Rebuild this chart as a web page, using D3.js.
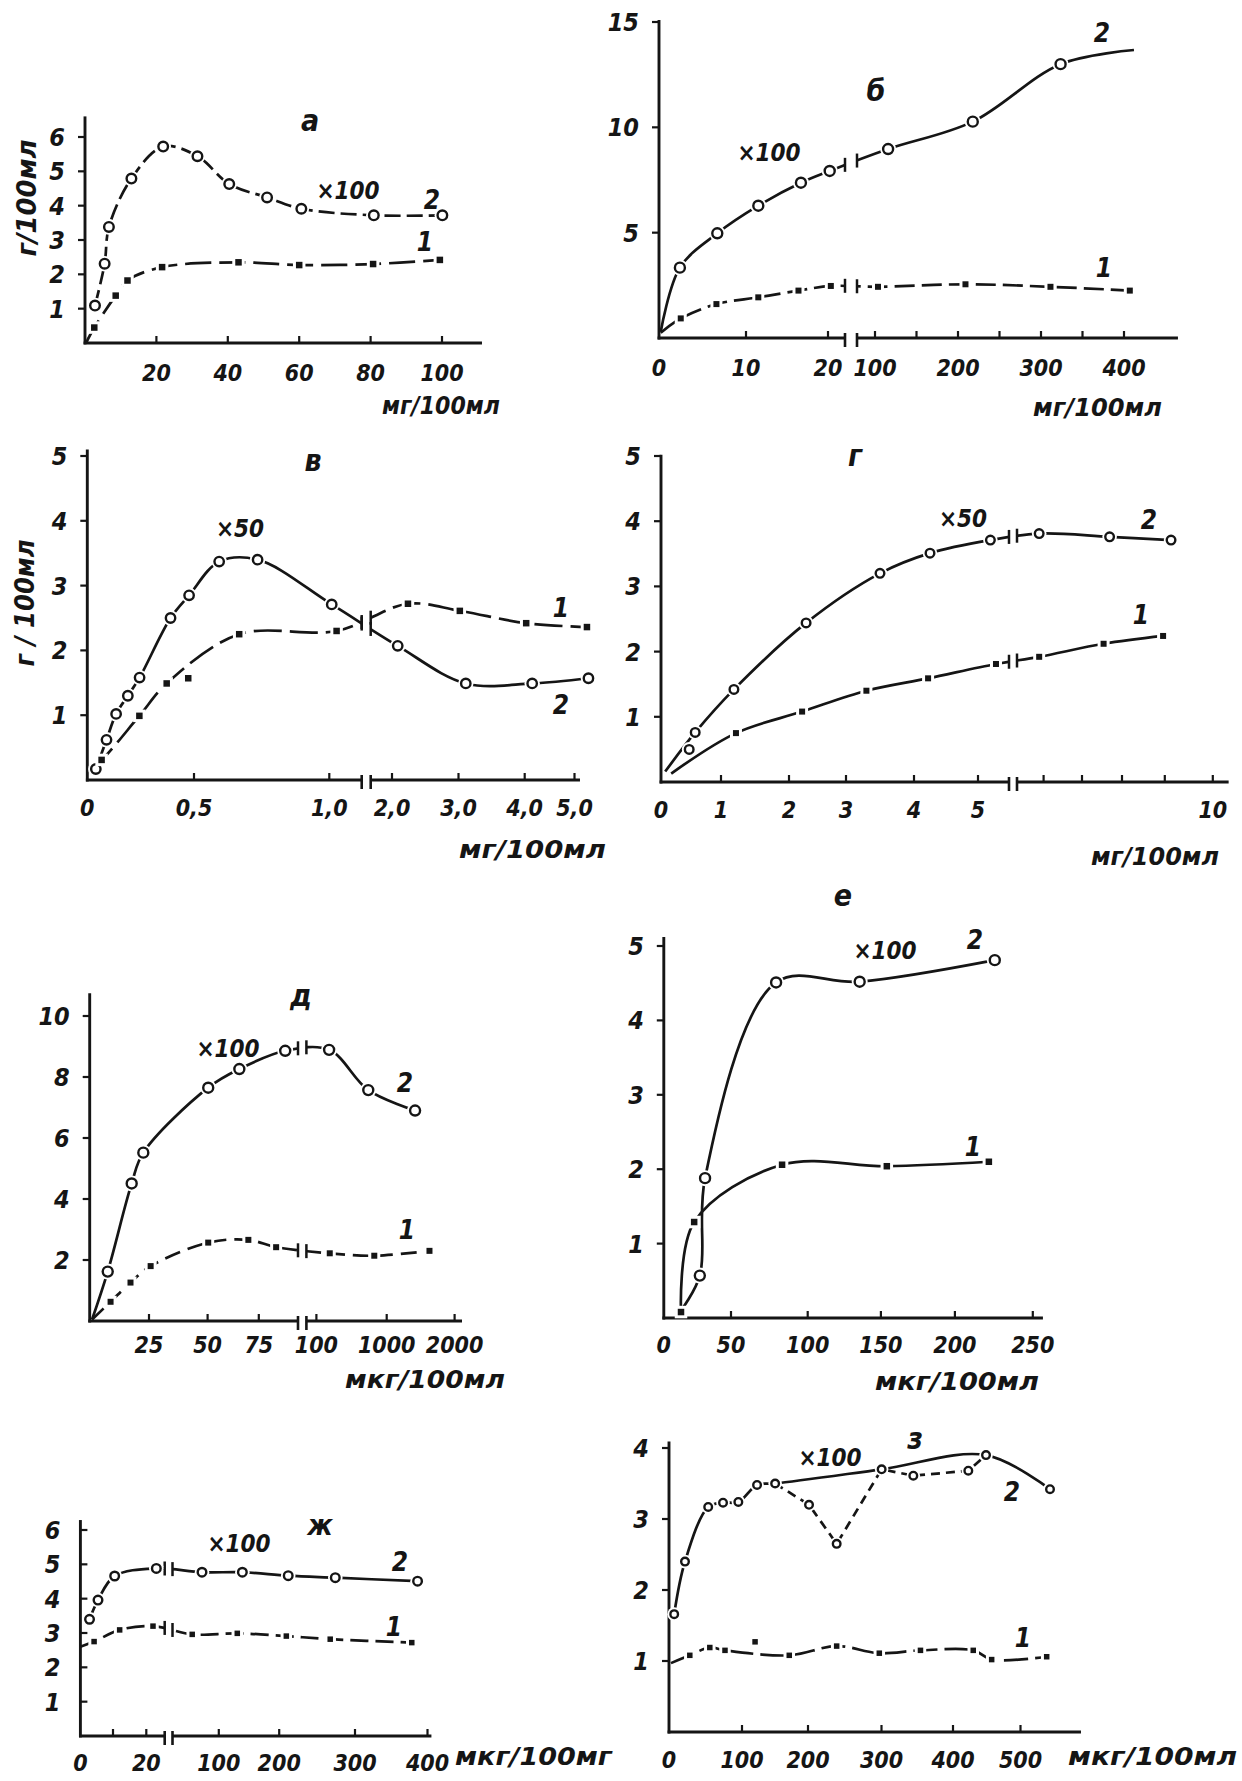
<!DOCTYPE html>
<html>
<head>
<meta charset="utf-8">
<script src="https://cdn.jsdelivr.net/npm/d3@7"></script>
<style>
    body { margin: 0; background: #fff; }
    svg text { font-family: "DejaVu Sans Condensed", "Liberation Sans Narrow", "DejaVu Sans", sans-serif; font-style: italic; font-weight: bold; fill: #151515; }
</style>
</head>
<body>
<svg id="fig" width="1242" height="1781"></svg>
<script>
// each point: [x, y] ; third value 0 = curve anchor without marker, 2 = marker off the curve

// а
var aXTicks = [20, 40, 60, 80, 100];
var aYTicks = [1, 2, 3, 4, 5, 6];
var aS2 = [[2.8, 1.09], [5.5, 2.31], [6.7, 3.38], [13, 4.79], [21.9, 5.72], [31.5, 5.44], [40.4, 4.63], [51, 4.24], [60.6, 3.91], [80.9, 3.72], [100.1, 3.72]];
var aS1 = [[0.3, 0.0, 0], [2.6, 0.45], [8.6, 1.38], [11.9, 1.82], [21.6, 2.21], [43, 2.35], [60, 2.27], [80.7, 2.3], [99.4, 2.42]];

// б
var bXTicks = [10, 20, 100, 150, 200, 250, 300, 350, 400];
var bXLabels = [0, 10, 20, 100, 200, 300, 400];
var bYTicks = [5, 10, 15];
var bS2 = [[0.2, 0.3, 0], [2.4, 3.34], [6.7, 4.97], [11.5, 6.28], [16.7, 7.37], [20.3, 7.93], [115.8, 8.97], [217.8, 10.27], [323.6, 13.0], [412, 13.67, 0]];
var bS1 = [[0.2, 0.25, 0], [2.5, 0.93], [6.6, 1.61], [11.5, 1.93], [16.4, 2.25], [20.5, 2.47], [103.6, 2.43], [209, 2.55], [311.4, 2.43], [407, 2.25]];

// в
var vXTicks = [0.5, 1.0, 2, 3, 4, 5];
var vXLabels = [0, 0.5, 1.0, 2, 3, 4, 5];
var vYTicks = [1, 2, 3, 4, 5];
var vS2 = [[0.04, 0.17], [0.09, 0.62], [0.135, 1.02], [0.19, 1.30], [0.245, 1.58], [0.39, 2.50], [0.477, 2.85], [0.593, 3.37], [0.735, 3.40], [1.009, 2.71], [2.086, 2.07], [3.11, 1.49], [4.15, 1.49], [5.28, 1.57]];
var vS1 = [[0.02, 0.2, 0], [0.067, 0.31], [0.244, 0.99], [0.372, 1.49], [0.473, 1.57, 2], [0.667, 2.25], [1.027, 2.30], [2.24, 2.72], [3.02, 2.61], [4.03, 2.42], [5.25, 2.36]];

// г
var gXTicks = [1, 2, 3, 4, 5, 6, 7, 8, 9, 10];
var gXLabels = [0, 1, 2, 3, 4, 5, 10];
var gYTicks = [1, 2, 3, 4, 5];
var gS2 = [[0.07, 0.16, 0], [0.47, 0.50, 2], [0.57, 0.76], [1.19, 1.42], [2.30, 2.44], [3.50, 3.20], [4.25, 3.51], [5.2, 3.71], [5.95, 3.81], [7.69, 3.76], [9.13, 3.71]];
var gS1 = [[0.17, 0.13, 0], [1.22, 0.75], [2.23, 1.08], [3.30, 1.40], [4.22, 1.59], [5.29, 1.81], [5.95, 1.92], [7.54, 2.12], [8.96, 2.24]];

// д
var dXTicks = [25, 50, 75, 100, 1000, 2000];
var dYTicks = [2, 4, 6, 8, 10];
var dS2 = [[1, 0.05, 0], [7.6, 1.62], [17.7, 4.51], [22.6, 5.52], [50.3, 7.65], [65.5, 8.26], [87.8, 8.86], [262.6, 8.89], [764, 7.57], [1418, 6.9]];
var dS1 = [[1, 0.05, 0], [8.8, 0.63], [17.2, 1.26], [25.7, 1.80], [50.3, 2.57], [69.9, 2.66], [83.4, 2.42], [271, 2.22], [841, 2.14], [1630, 2.30]];

// е
var eXTicks = [50, 100, 150, 200, 250];
var eXLabels = [0, 50, 100, 150, 200, 250];
var eYTicks = [1, 2, 3, 4, 5];
var eS2 = [[12.8, 0.1, 0], [26.8, 0.57], [30.7, 1.88], [79.4, 4.51], [135.5, 4.52], [225.6, 4.81]];
var eS1 = [[12.8, 0.08], [22.6, 1.29], [83.3, 2.06], [154, 2.04], [221.8, 2.10]];

// ж
var zhXTicks = [10, 20, 100, 200, 300, 400];
var zhXLabels = [0, 20, 100, 200, 300, 400];
var zhYTicks = [1, 2, 3, 4, 5, 6];
var zhS2 = [[2.8, 3.40], [5.4, 3.96], [10.5, 4.66], [23, 4.88], [74.6, 4.77], [139, 4.77], [211.9, 4.67], [274, 4.61], [386.3, 4.51]];
var zhS1 = [[0, 2.6, 0], [4.2, 2.75], [12, 3.09], [22, 3.20], [59.8, 2.96], [130.6, 2.99], [209.4, 2.91], [267.3, 2.82], [378.3, 2.72]];

// з
var zXTicks = [100, 200, 300, 400, 500];
var zXLabels = [0, 100, 200, 300, 400, 500];
var zYTicks = [1, 2, 3, 4];
var zS2 = [[7.1, 1.66], [21.9, 2.40], [53.7, 3.17], [74, 3.23], [95, 3.24], [122.8, 3.48], [150.2, 3.50], [300.2, 3.70], [448.9, 3.90], [543.7, 3.42]];
var zS3 = [[150.2, 3.50, 0], [201.4, 3.20], [239, 2.65], [300.2, 3.70, 0], [344.5, 3.61], [422.7, 3.68], [448.9, 3.90, 0]];
var zS1 = [[2.7, 0.97, 0], [28.5, 1.08], [55.9, 1.19], [76.7, 1.15], [119.8, 1.27, 2], [171.6, 1.08], [239, 1.21], [297, 1.11], [354.5, 1.15], [430, 1.15], [457.3, 1.02], [538.8, 1.06]];

var ink = "#151515";
var svg = d3.select("#fig");
svg.append("rect").attr("width", 1242).attr("height", 1781).attr("fill", "#fff");

var commaFmt = function (v) { return v === 0 ? "0" : d3.format(".1f")(v).replace(".", ","); };

// y of a drawn path at a given x
function yAt(node, px) {
    var L = node.getTotalLength(), best = null, bd = 1e9;
    for (var l = 0; l <= L; l += 1) {
        var pt = node.getPointAtLength(l);
        var dd = Math.abs(pt.x - px);
        if (dd < bd) { bd = dd; best = pt.y; }
    }
    return best;
}

function drawPanel(p) {
    var g = svg.append("g");
    var x = d3.scaleLinear().domain(p.xDom).range(p.xRng);
    var y = d3.scaleLinear().domain(p.yDom).range(p.yRng);
    var x0 = x(0), y0 = y(0);
    var fmt = p.fmt || function (v) { return String(v); };

    var smooth = d3.line().x(d => x(d[0])).y(d => y(d[1])).curve(d3.curveCatmullRom.alpha(0.5));
    var straight = d3.line().x(d => x(d[0])).y(d => y(d[1]));

    // axes
    g.append("line").attr("x1", x0).attr("y1", y0 + 1.4).attr("x2", x0).attr("y2", y(p.yTop))
        .attr("stroke", ink).attr("stroke-width", 2.9);
    g.append("line").attr("x1", x0 - 1.4).attr("y1", y0).attr("x2", x(p.xEnd)).attr("y2", y0)
        .attr("stroke", ink).attr("stroke-width", 2.9);

    var dir = p.yTickDir || -1;
    p.yTicks.forEach(function (t) {
        g.append("line").attr("x1", x0).attr("x2", x0 + dir * 7).attr("y1", y(t)).attr("y2", y(t))
            .attr("stroke", ink).attr("stroke-width", 2.2);
        g.append("text").attr("x", x0 - 20).attr("y", y(t)).attr("dy", "0.36em")
            .attr("text-anchor", "end").style("font-size", "25px").text(t);
    });
    p.xTicks.forEach(function (t) {
        g.append("line").attr("x1", x(t)).attr("x2", x(t)).attr("y1", y0).attr("y2", y0 - 7)
            .attr("stroke", ink).attr("stroke-width", 2.2);
    });
    (p.xLabels || p.xTicks).forEach(function (t) {
        g.append("text").attr("x", x(t)).attr("y", p.xLabY)
            .attr("text-anchor", "middle").style("font-size", "23px").text(fmt(t));
    });

    // curves
    var paths = p.series.map(function (s) {
        return g.append("path")
            .datum(s.pts.filter(d => d[2] !== 2))
            .attr("d", s.linear ? straight : smooth)
            .attr("fill", "none")
            .attr("stroke", ink)
            .attr("stroke-width", 2.7)
            .attr("stroke-dasharray", s.dash || null)
            .node();
    });

    // axis break
    if (p.brk) {
        var bx0 = x(p.brk[0]), bx1 = x(p.brk[1]);
        g.append("rect").attr("x", bx0).attr("y", y(p.yTop) - 5)
            .attr("width", bx1 - bx0).attr("height", y0 + 2.5 - y(p.yTop) + 5).attr("fill", "#fff");
        [bx0, bx1].forEach(function (bx) {
            g.append("line").attr("x1", bx).attr("x2", bx).attr("y1", y0 - 5).attr("y2", y0 + 9)
                .attr("stroke", ink).attr("stroke-width", 2.6);
            paths.forEach(function (node) {
                var yy = yAt(node, bx);
                g.append("line").attr("x1", bx).attr("x2", bx).attr("y1", yy - 7).attr("y2", yy + 7)
                    .attr("stroke", ink).attr("stroke-width", 2.5);
            });
        });
    }

    // markers
    p.series.forEach(function (s) {
        var pts = s.pts.filter(d => d[2] !== 0);
        if (s.mark === "circle") {
            g.selectAll(null).data(pts).enter().append("circle")
                .attr("cx", d => x(d[0])).attr("cy", d => y(d[1])).attr("r", p.r + 3).attr("fill", "#fff");
            g.selectAll(null).data(pts).enter().append("circle")
                .attr("cx", d => x(d[0])).attr("cy", d => y(d[1])).attr("r", p.r)
                .attr("fill", "#fff").attr("stroke", ink).attr("stroke-width", 2.4);
        } else {
            var h = p.sq / 2;
            g.selectAll(null).data(pts).enter().append("rect")
                .attr("x", d => x(d[0]) - h - 3).attr("y", d => y(d[1]) - h - 3)
                .attr("width", p.sq + 6).attr("height", p.sq + 6).attr("fill", "#fff");
            g.selectAll(null).data(pts).enter().append("rect")
                .attr("x", d => x(d[0]) - h).attr("y", d => y(d[1]) - h)
                .attr("width", p.sq).attr("height", p.sq).attr("fill", ink);
        }
    });

    // annotations
    p.notes.forEach(function (n) {
        g.append("text").attr("x", n[1]).attr("y", n[2]).attr("dy", "0.36em")
            .attr("text-anchor", "middle").style("font-size", n[3] + "px").text(n[0]);
    });
    g.append("text").attr("x", p.xTitle[1]).attr("y", p.xTitle[2])
        .attr("textLength", p.xTitle[3]).attr("lengthAdjust", "spacingAndGlyphs")
        .style("font-size", "25px").text(p.xTitle[0]);
    if (p.yTitle) {
        g.append("text")
            .attr("transform", "translate(" + p.yTitle[1] + "," + p.yTitle[2] + ") rotate(-90)")
            .attr("dy", "0.36em").attr("text-anchor", "middle")
            .attr("textLength", p.yTitle[3]).attr("lengthAdjust", "spacingAndGlyphs")
            .style("font-size", "26px").text(p.yTitle[0]);
    }
}

drawPanel({
    xDom: [0, 100], xRng: [85, 442], xEnd: 111.2,
    yDom: [0, 6], yRng: [343, 137], yTop: 6.6,
    xTicks: aXTicks, yTicks: aYTicks, xLabY: 381, r: 4.8, sq: 6.5,
    series: [
        { pts: aS2, mark: "circle", dash: "16,6" },
        { pts: aS1, mark: "square", dash: "26,8" }
    ],
    notes: [["а", 310, 120, 30], ["×100", 348, 190, 24], ["2", 432, 200, 26], ["1", 425, 242, 26]],
    xTitle: ["мг/100мл", 382, 414, 118],
    yTitle: ["г/100мл", 27, 198, 117]
});

drawPanel({
    xDom: [0, 10, 20, 23, 78, 100, 150, 200, 250, 300, 350, 400],
    xRng: [659, 746, 828, 845, 857, 875, 916.5, 958, 999.5, 1041, 1082.5, 1124], xEnd: 465, brk: [23, 78],
    yDom: [0, 15], yRng: [338, 22], yTop: 15.1,
    xTicks: bXTicks, xLabels: bXLabels, yTicks: bYTicks, xLabY: 376, r: 5, sq: 6,
    series: [
        { pts: bS2, mark: "circle" },
        { pts: bS1, mark: "square", dash: "20,7" }
    ],
    notes: [["б", 876, 90, 30], ["×100", 769, 152, 24], ["2", 1102, 33, 26], ["1", 1104, 268, 26]],
    xTitle: ["мг/100мл", 1033, 416, 129]
});

drawPanel({
    xDom: [0, 0.5, 1.0, 1.12, 1.7, 2, 3, 4, 5],
    xRng: [87.3, 194, 329.3, 361.7, 370.7, 392, 458.5, 524.7, 574.5], xEnd: 5.11, brk: [1.12, 1.7],
    yDom: [0, 5], yRng: [780, 456], yTop: 5.1, fmt: commaFmt,
    xTicks: vXTicks, xLabels: vXLabels, yTicks: vYTicks, xLabY: 816, r: 4.7, sq: 6.5,
    series: [
        { pts: vS2, mark: "circle" },
        { pts: vS1, mark: "square", dash: "28,8" }
    ],
    notes: [["в", 313, 460, 30], ["×50", 240, 528, 24], ["1", 561, 608, 26], ["2", 561, 705, 26]],
    xTitle: ["мг/100мл", 459, 858, 147],
    yTitle: ["г / 100мл", 25, 603, 127]
});

drawPanel({
    xDom: [0, 1, 2, 3, 4, 5, 5.5, 5.7, 6, 7, 8, 9, 10],
    xRng: [661, 721, 789, 846, 914, 978, 1009, 1017, 1043.6, 1082, 1122, 1164.8, 1212.8], xEnd: 10.33, brk: [5.5, 5.7],
    yDom: [0, 5], yRng: [782, 456], yTop: 5.02,
    xTicks: gXTicks, xLabels: gXLabels, yTicks: gYTicks, xLabY: 818, r: 4.3, sq: 6,
    series: [
        { pts: gS2, mark: "circle" },
        { pts: gS1, mark: "square" }
    ],
    notes: [["г", 855, 455, 30], ["×50", 963, 518, 24], ["2", 1149, 520, 26], ["1", 1141, 615, 26]],
    xTitle: ["мг/100мл", 1091, 865, 128]
});

drawPanel({
    xDom: [0, 25, 50, 75, 94, 96, 100, 1000, 2000],
    xRng: [89.7, 149, 207.6, 258.8, 298, 306.4, 316.4, 386.7, 454.6], xEnd: 2109, brk: [94, 96],
    yDom: [0, 10], yRng: [1321, 1016], yTop: 10.75,
    xTicks: dXTicks, yTicks: dYTicks, xLabY: 1353, r: 5, sq: 6,
    series: [
        { pts: dS2, mark: "circle" },
        { pts: dS1, mark: "square", dash: "16,8" }
    ],
    notes: [["д", 301, 995, 30], ["×100", 228, 1048, 24], ["2", 405, 1083, 26], ["1", 407, 1230, 26]],
    xTitle: ["мкг/100мл", 345, 1388, 160]
});

drawPanel({
    xDom: [0, 50, 100, 150, 200, 250],
    xRng: [663.8, 731, 807.7, 880.9, 954.9, 1032.8], xEnd: 256.5,
    yDom: [0, 5], yRng: [1318, 946], yTop: 5.12,
    xTicks: eXTicks, xLabels: eXLabels, yTicks: eYTicks, xLabY: 1353, r: 5, sq: 6.5,
    series: [
        { pts: eS2, mark: "circle" },
        { pts: eS1, mark: "square" }
    ],
    notes: [["е", 843, 895, 30], ["×100", 885, 950, 24], ["2", 975, 940, 26], ["1", 973, 1147, 26]],
    xTitle: ["мкг/100мл", 875, 1390, 164]
});

drawPanel({
    xDom: [0, 10, 20, 25.5, 30, 100, 200, 300, 400],
    xRng: [80.4, 113, 146.3, 164.7, 172.5, 218.8, 279.2, 355, 427.5], xEnd: 405.4, brk: [25.5, 30],
    yDom: [0, 6], yRng: [1736, 1530], yTop: 6.29, yTickDir: 1,
    xTicks: zhXTicks, xLabels: zhXLabels, yTicks: zhYTicks, xLabY: 1771, r: 4.3, sq: 5.5,
    series: [
        { pts: zhS2, mark: "circle" },
        { pts: zhS1, mark: "square", dash: "18,7" }
    ],
    notes: [["ж", 320, 1525, 28], ["×100", 239, 1543, 24], ["2", 400, 1562, 26], ["1", 394, 1627, 26]],
    xTitle: ["мкг/100мг", 455, 1765, 157]
});

drawPanel({
    xDom: [0, 100, 200, 300, 400, 500],
    xRng: [669, 742, 808, 881.5, 953, 1020.5], xEnd: 589.6,
    yDom: [0, 4], yRng: [1732, 1448], yTop: 4.09,
    xTicks: zXTicks, xLabels: zXLabels, yTicks: zYTicks, xLabY: 1768, r: 3.8, sq: 5.5,
    series: [
        { pts: zS2, mark: "circle" },
        { pts: zS3, mark: "circle", dash: "9,6", linear: true },
        { pts: zS1, mark: "square", dash: "24,7" }
    ],
    notes: [["з", 915, 1438, 30], ["×100", 830, 1457, 24], ["2", 1012, 1492, 26], ["1", 1023, 1638, 26]],
    xTitle: ["мкг/100мл", 1068, 1765, 169]
});
</script>
</body>
</html>
